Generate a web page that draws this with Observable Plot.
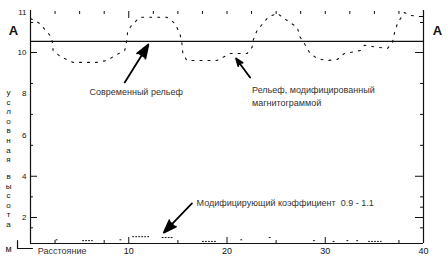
<!DOCTYPE html>
<html><head><meta charset="utf-8">
<script src="https://cdn.jsdelivr.net/npm/d3@7"></script>
<script src="https://cdn.jsdelivr.net/npm/@observablehq/plot@0.6"></script>
<style>
body{margin:0;background:#fff;}
#wrap{position:relative;width:447px;height:261px;font-family:"Liberation Sans",Arial,sans-serif;color:#111;}
#wrap svg{position:absolute;left:0;top:0;}
.vl{position:absolute;left:4px;width:9px;font-size:8px;line-height:9.6px;text-align:center;}
</style></head><body><div id="wrap"></div>
<script>
// Relief profile (distance, conditional height)
const reliefX = [0,0.41,0.92,1.73,2.14,2.24,2.3,3.16,3.98,4.29,5.82,6.73,7.76,8.78,9.59,9.8,9.9,10.31,11.12,11.84,13.16,13.88,14.69,15.2,15.41,15.51,15.92,17.24,18.98,20.31,21.33,22.04,22.55,22.65,23.06,23.67,24.18,25.1,26.12,27.14,27.45,27.86,28.47,29.18,30.2,31.22,31.94,32.55,33.57,33.98,35.31,36.33,36.84,37.04,37.35,38.06,38.67,39.39,40];
const reliefY = [10.85,10.8,10.73,10.5,10.38,10.23,10.05,9.76,9.61,9.52,9.52,9.52,9.61,9.9,10.05,10.3,10.55,10.68,10.88,10.88,10.88,10.88,10.73,10.48,10.23,9.95,9.61,9.61,9.61,9.95,9.95,9.95,10.13,10.3,10.55,10.73,10.88,10.98,10.8,10.63,10.38,10.23,9.95,9.71,9.61,9.66,9.95,10.0,10.05,10.18,10.13,10.1,10.25,10.48,10.73,11.0,10.93,10.9,10.9];

// Modifying coefficient runs
const coefSeg = [1,1,2,2,3,3,4,4,5,5,6,6,7,7,8,8,9,9,10,10,11,11,12,12,13,13];
const coefX = [2.6,2.8,5.3,6.3,9.1,9.3,10.4,12.2,13.4,14.5,17.5,19.0,21.4,21.6,24.3,24.5,28.8,29.0,30.8,31.0,32.2,32.4,33.2,33.4,34.4,35.7];
const coefY = [0.92,0.92,0.88,0.88,0.92,0.92,1.07,1.07,1.03,1.03,0.84,0.84,0.92,0.92,1.03,1.03,0.88,0.88,0.84,0.84,0.88,0.88,0.88,0.88,0.84,0.84];

// Level A
const levelA = [10.28];

// Tick values
const yTickLabels = [2,4,6,8,10,11];
const yMajorTicks = [2,4,10];
const yMinorLeft = [1.5,3,5.5,7,8.5,10.75];
const yMinorRight = [1.5,2.5,3,5.5,7,8.5,10.75,10.9];
const xTickLabels = [10,20,30,40];
const xMajorTicks = [10,20,30];
const xMinorBottom = [2.5,7.5,15,25,37.5];
const xTopTicks = [2.5,5,7.5,12.5,15,17.5,20,22.5,25,27.5,30,32.5,35,37.5];
const xTopLong = [10];

// Annotations
const notes = [
  {x:6.0, y:8.06, t:"Современный рельеф"},
  {x:22.55, y:8.16, t:"Рельеф, модифицированный"},
  {x:22.55, y:7.53, t:"магнитограммой"},
  {x:16.9, y:2.68, t:"Модифицирующий коэффициент  0.9 - 1.1"},
  {x:0.75, y:0.35, t:"Расстояние"}
];
const arrows = [
  {x1:9.59, y1:8.55, x2:12.0, y2:10.2},
  {x1:22.35, y1:8.79, x2:20.92, y2:9.71},
  {x1:16.43, y1:2.68, x2:13.57, y2:1.27}
];
const aLabels = [{x:-1.73, y:10.53, t:"A"}, {x:41.42, y:10.53, t:"A"}];
const cornerX = [-1.32,-1.32,0.2];
const cornerY = [0.885,0.497,0.497];

const reliefData = reliefX.map((x,i)=>({x, y:reliefY[i]}));
const coefData = coefX.map((x,i)=>({x, y:coefY[i], s:coefSeg[i]}));
const cornerData = cornerX.map((x,i)=>({x, y:cornerY[i]}));

const chart = Plot.plot({
  width:447, height:261,
  marginLeft:30, marginRight:24, marginTop:10, marginBottom:18,
  style:{fontFamily:'"Liberation Sans",Arial,sans-serif', color:"#111", background:"transparent"},
  x:{domain:[0,40], axis:null},
  y:{type:"linear", domain:[0.74,10,11.05], range:[243,52,10], axis:null},
  marks:[
    Plot.ruleX([0,40], {y1:0.74, y2:11.05, strokeWidth:1.2}),
    Plot.ruleY([0.74], {x1:0, x2:40, strokeWidth:1.2}),
    Plot.ruleY(levelA, {x1:0, x2:40, strokeWidth:1.2}),
    // left axis
    Plot.axisY(yTickLabels, {anchor:"left", tickSize:0, tickPadding:4, fontSize:8}),
    Plot.axisY(yMajorTicks, {anchor:"left", tickSize:-7, tickFormat:()=>""}),
    Plot.axisY(yMinorLeft, {anchor:"left", tickSize:-3, tickFormat:()=>""}),
    // right axis
    Plot.axisY(yMajorTicks, {anchor:"right", tickSize:-9, tickFormat:()=>""}),
    Plot.axisY(yMinorRight, {anchor:"right", tickSize:-4, tickFormat:()=>""}),
    // bottom axis
    Plot.axisX(xTickLabels, {anchor:"bottom", tickSize:0, tickPadding:4, fontSize:9}),
    Plot.axisX(xMajorTicks, {anchor:"bottom", tickSize:-6, tickFormat:()=>""}),
    Plot.axisX(xMinorBottom, {anchor:"bottom", tickSize:-3, tickFormat:()=>""}),
    // top ticks
    Plot.axisX(xTopTicks, {anchor:"top", tickSize:-3, tickFormat:()=>""}),
    Plot.axisX(xTopLong, {anchor:"top", tickSize:-7, tickFormat:()=>""}),
    // data
    Plot.line(reliefData, {x:"x", y:"y", strokeWidth:1.1, strokeDasharray:"2,6", curve:"linear"}),
    Plot.line(coefData, {x:"x", y:"y", z:"s", strokeWidth:1, strokeDasharray:"1,2"}),
    // annotations
    Plot.arrow(arrows, {x1:"x1", y1:"y1", x2:"x2", y2:"y2", strokeWidth:1.8, headLength:12, headAngle:40, fill:"black", stroke:"black"}),
    Plot.text(notes, {x:"x", y:"y", text:"t", textAnchor:"start", fontSize:9, fill:"#333"}),
    Plot.text(aLabels, {x:"x", y:"y", text:"t", fontSize:13, fontWeight:"bold"}),
    Plot.line(cornerData, {x:"x", y:"y", strokeWidth:1.2})
  ]
});
const wrap = document.getElementById("wrap");
wrap.appendChild(chart);
const lab1 = ["у","с","л","о","в","н","а","я"];
const lab2 = ["в","ы","с","о","т","а"];
const d1 = document.createElement("div"); d1.className="vl"; d1.style.top="88px"; d1.innerHTML = lab1.join("<br>");
const d2 = document.createElement("div"); d2.className="vl"; d2.style.top="172px"; d2.innerHTML = lab2.join("<br>");
const d3m = document.createElement("div"); d3m.className="vl"; d3m.style.top="245px"; d3m.style.fontSize="9px"; d3m.textContent="м";
wrap.appendChild(d1); wrap.appendChild(d2); wrap.appendChild(d3m);
</script></body></html>
